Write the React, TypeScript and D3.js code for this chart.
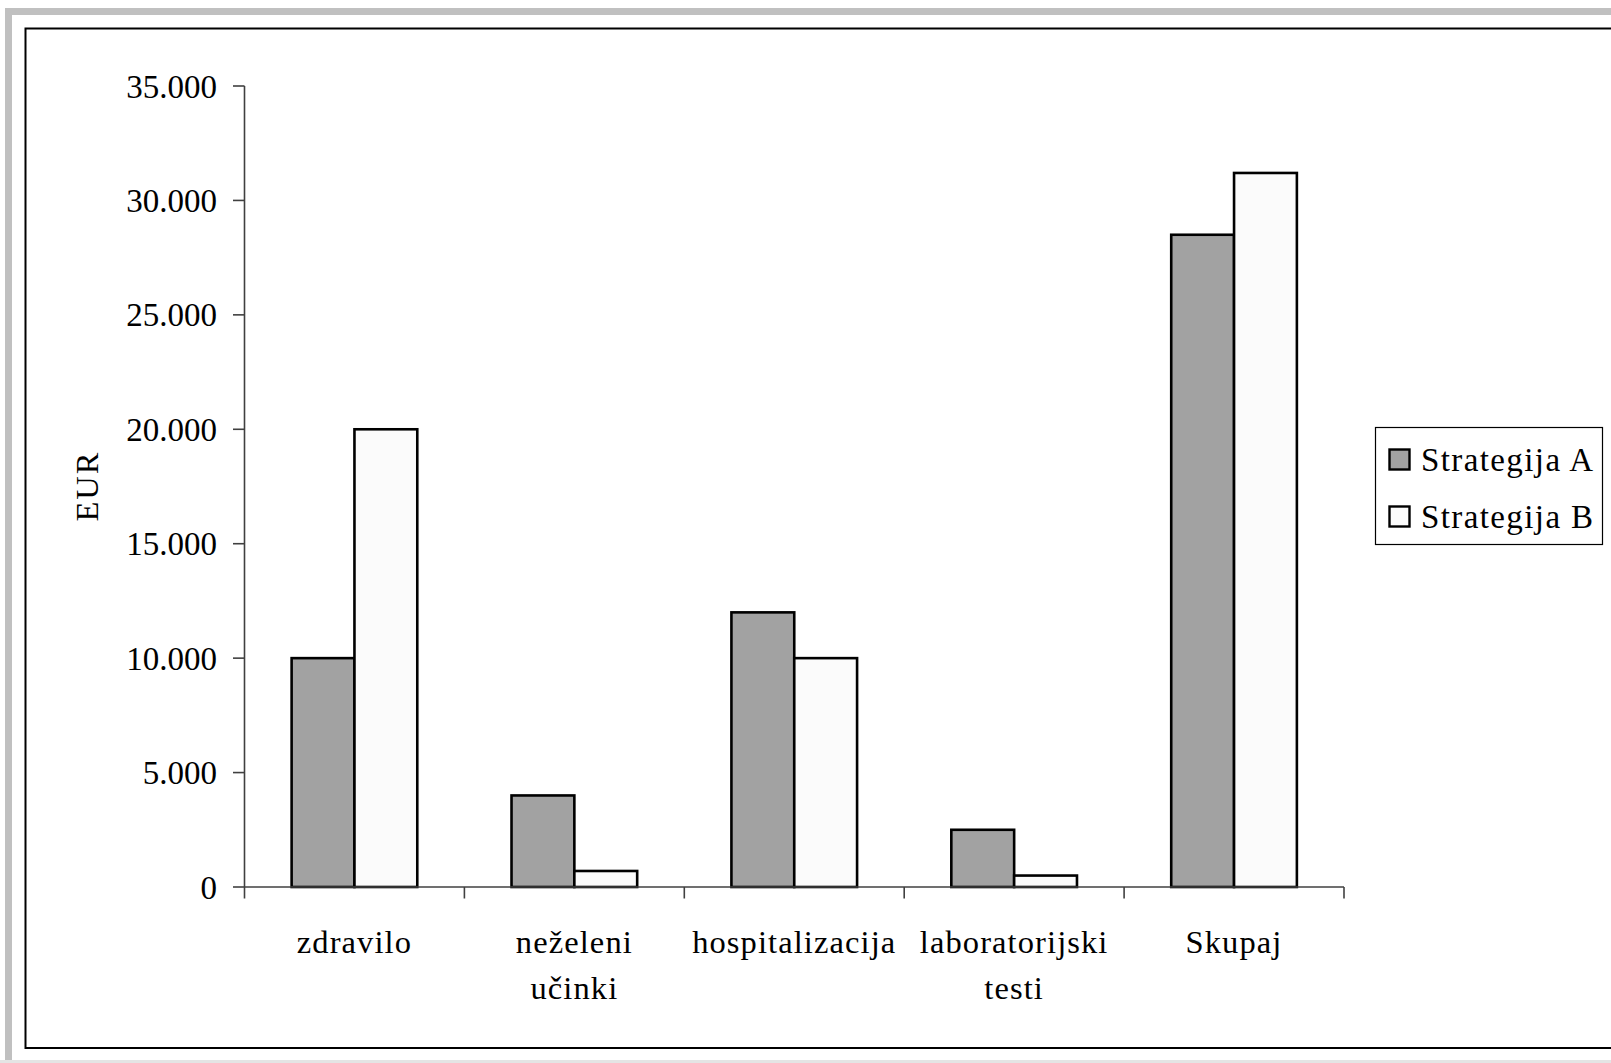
import React from "react";
import * as d3 from "d3";

const categories: string[][] = [
  ["zdravilo"],
  ["neželeni", "učinki"],
  ["hospitalizacija"],
  ["laboratorijski", "testi"],
  ["Skupaj"],
];
const seriesNames = ["Strategija A", "Strategija B"];
const strategyA = [10000, 4000, 12000, 2500, 28500];
const strategyB = [20000, 700, 10000, 500, 31200];
const yTicks = [0, 5000, 10000, 15000, 20000, 25000, 30000, 35000];
const yTickLabels = ["0", "5.000", "10.000", "15.000", "20.000", "25.000", "30.000", "35.000"];
const seriesColors = ["#a2a2a2", "#fbfbfb"];

const W = 1611;
const H = 1063;
const FONT = "'Liberation Serif', 'Times New Roman', serif";

export default function App() {
  const plotLeft = 244.5;
  const plotRight = 1344;
  const y0 = 887;
  const yTop = 86;

  const y = d3.scaleLinear().domain([0, 35000]).range([y0, yTop]);
  const x0 = d3
    .scaleBand<number>()
    .domain(categories.map((_, i) => i))
    .range([plotLeft, plotRight])
    .paddingInner(0)
    .paddingOuter(0);
  const x1 = d3
    .scaleBand<number>()
    .domain([0, 1])
    .range([0, x0.step()])
    .paddingInner(0)
    .paddingOuter(0.75);

  const data = [strategyA, strategyB];
  const catBoundaries = d3.range(categories.length + 1).map((i) => plotLeft + i * x0.step());

  return (
    <svg
      width={W}
      height={H}
      style={{ position: "absolute", left: 0, top: 0, background: "#fff" }}
      fontFamily={FONT}
    >
      <rect x={0} y={0} width={W} height={H} fill="#fff" />
      {/* outer grey frame */}
      <rect x={8.5} y={11.5} width={1700} height={1200} fill="none" stroke="#c0c0c0" strokeWidth={7} />
      <rect x={0} y={1060} width={W} height={3} fill="#e4e4e4" />
      {/* inner black frame */}
      <rect x={25.5} y={28.5} width={1700} height={1019.5} fill="none" stroke="#000" strokeWidth={2} />

      {/* bars */}
      {data.map((vals, s) =>
        vals.map((v, i) => (
          <rect
            key={`b${s}-${i}`}
            x={(x0(i) as number) + (x1(s) as number)}
            y={y(v)}
            width={x1.bandwidth()}
            height={y0 - y(v)}
            fill={seriesColors[s]}
            stroke="#000"
            strokeWidth={2.6}
          />
        ))
      )}

      {/* y axis */}
      <line x1={plotLeft} x2={plotLeft} y1={yTop} y2={y0} stroke="#404040" strokeWidth={1.6} />
      {yTicks.map((t, i) => (
        <g key={`yt${i}`}>
          <line x1={plotLeft - 11.5} x2={plotLeft} y1={y(t)} y2={y(t)} stroke="#404040" strokeWidth={1.6} />
          <text x={217} y={y(t) + 11.5} textAnchor="end" fontSize={33} fill="#000">
            {yTickLabels[i]}
          </text>
        </g>
      ))}

      {/* x axis */}
      <line x1={plotLeft} x2={plotRight} y1={y0} y2={y0} stroke="#404040" strokeWidth={1.6} />
      {catBoundaries.map((bx, i) => (
        <line key={`xt${i}`} x1={bx} x2={bx} y1={y0} y2={y0 + 11.5} stroke="#404040" strokeWidth={1.6} />
      ))}
      {categories.map((lines, i) => {
        const cx = (x0(i) as number) + x0.bandwidth() / 2;
        return (
          <text key={`cl${i}`} textAnchor="middle" fontSize={32.5} fill="#000" letterSpacing={1.1}>
            {lines.map((ln, j) => (
              <tspan key={j} x={cx} y={953 + j * 46}>
                {ln}
              </tspan>
            ))}
          </text>
        );
      })}

      {/* y axis title */}
      <text
        transform={`translate(98, 486) rotate(-90)`}
        textAnchor="middle"
        fontSize={32.5}
        letterSpacing={2}
        fill="#000"
      >
        EUR
      </text>

      {/* legend */}
      <rect x={1375.5} y={427.5} width={227} height={117} fill="#fff" stroke="#000" strokeWidth={1.2} />
      {seriesNames.map((name, s) => (
        <g key={`lg${s}`}>
          <rect
            x={1389.5}
            y={449.5 + s * 57}
            width={20}
            height={20}
            fill={seriesColors[s]}
            stroke="#000"
            strokeWidth={2.4}
          />
          <text x={1421} y={471 + s * 57} fontSize={33} letterSpacing={1.4} fill="#000">
            {name}
          </text>
        </g>
      ))}
    </svg>
  );
}
